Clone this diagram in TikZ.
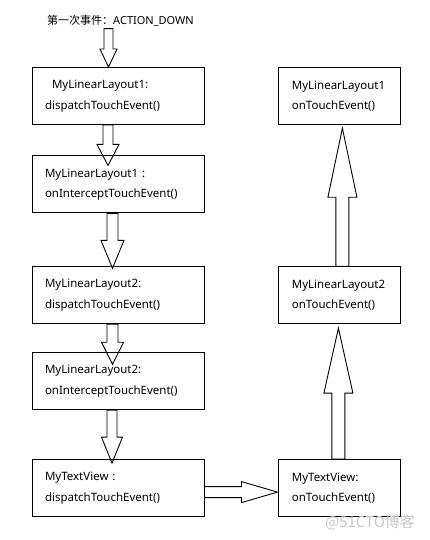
\documentclass[tikz,border=0pt]{standalone}
\usepackage{fontspec}
\setmainfont{Noto Sans}
\newfontfamily\cjk{Noto Sans CJK SC}
\usetikzlibrary{calc,positioning}
\tikzstyle{callbox}=[draw=black,line width=0.9pt,rectangle,minimum height=57pt,inner xsep=13pt,align=left,font=\fontsize{11.5}{20.5}\selectfont]
\tikzstyle{left box}=[callbox,text width=146pt]
\tikzstyle{right box}=[callbox,text width=96pt]
\tikzstyle{fat arrow}=[draw=black,line width=0.9pt,line join=miter]

% hollow block arrow: start, end, shaft half width, head half width, head length
\newcommand{\fatarrow}[5]{%
  \coordinate (fa-s) at (#1);
  \coordinate (fa-e) at (#2);
  \coordinate (fa-h) at ($(fa-e)!#5!(fa-s)$);
  \draw[fat arrow] ($(fa-s)!#3!90:(fa-e)$) -- ($(fa-h)!#3!90:(fa-e)$) -- ($(fa-h)!#4!90:(fa-e)$)
    -- (fa-e) -- ($(fa-h)!#4!-90:(fa-e)$) -- ($(fa-h)!#3!-90:(fa-e)$) -- ($(fa-s)!#3!-90:(fa-e)$) -- cycle;
}

\begin{document}
\begin{tikzpicture}
  \useasboundingbox (0,0) rectangle (429pt,-540pt);

  \node[inner sep=2pt,font=\fontsize{11}{13}\selectfont] (title) at (120.5pt,-21pt) {{\cjk 第一次事件：}ACTION\_DOWN};

  % dispatch chain
  \node[left box] (d1) at (118pt,-96pt) {\hspace*{7pt}MyLinearLayout1:\\dispatchTouchEvent()};
  \node[left box, below = 30.5pt of d1] (i1) {MyLinearLayout1 :\\onInterceptTouchEvent()};
  \node[left box, below = 53pt of i1] (d2) {MyLinearLayout2:\\dispatchTouchEvent()};
  \node[left box, below = 28pt of d2] (i2) {MyLinearLayout2:\\onInterceptTouchEvent()};
  \node[left box, below = 49pt of i2] (v1) {MyTextView :\\dispatchTouchEvent()};

  % touch chain
  \node[right box, right = 74pt of v1] (t1) {MyTextView:\\onTouchEvent()};
  \node[right box, above = 135pt of t1] (l2) {MyLinearLayout2\\onTouchEvent()};
  \node[right box, above = 141pt of l2] (l1) {MyLinearLayout1\\onTouchEvent()};

  \fatarrow{$(title.south)+(-12pt,0)$}{$(d1.north)+(-9.5pt,0)$}{4.5pt}{8.5pt}{18pt}
  \fatarrow{$(d1.south)+(-10pt,0)$}{$(i1.north)+(-10pt,-10pt)$}{5pt}{11pt}{21pt}
  \fatarrow{$(i1.south)+(-5.5pt,0)$}{$(d2.north)+(-5.5pt,-2pt)$}{5.5pt}{11.5pt}{28pt}
  \fatarrow{$(d2.south)+(-5.5pt,0)$}{$(i2.north)+(-5.5pt,-12pt)$}{5.5pt}{11pt}{22pt}
  \fatarrow{$(i2.south)+(-6pt,0)$}{$(v1.north)+(-6pt,-4pt)$}{5pt}{10.5pt}{26pt}

  \fatarrow{$(v1.east)+(0,-4pt)$}{$(t1.west)+(-1pt,-4pt)$}{5.5pt}{10.5pt}{36pt}

  \fatarrow{$(t1.north)+(-1.5pt,0)$}{$(l2.south)+(-1.5pt,-4pt)$}{6.5pt}{14.5pt}{65pt}
  \fatarrow{$(l2.north)+(2.5pt,0)$}{$(l1.south)+(2.5pt,-3pt)$}{6.5pt}{14.5pt}{69pt}

  \node[text=black!22,font=\cjk\fontsize{15}{15}\selectfont] (mark) at (370pt,-522pt) {@51CTO博客};
\end{tikzpicture}
\end{document}
